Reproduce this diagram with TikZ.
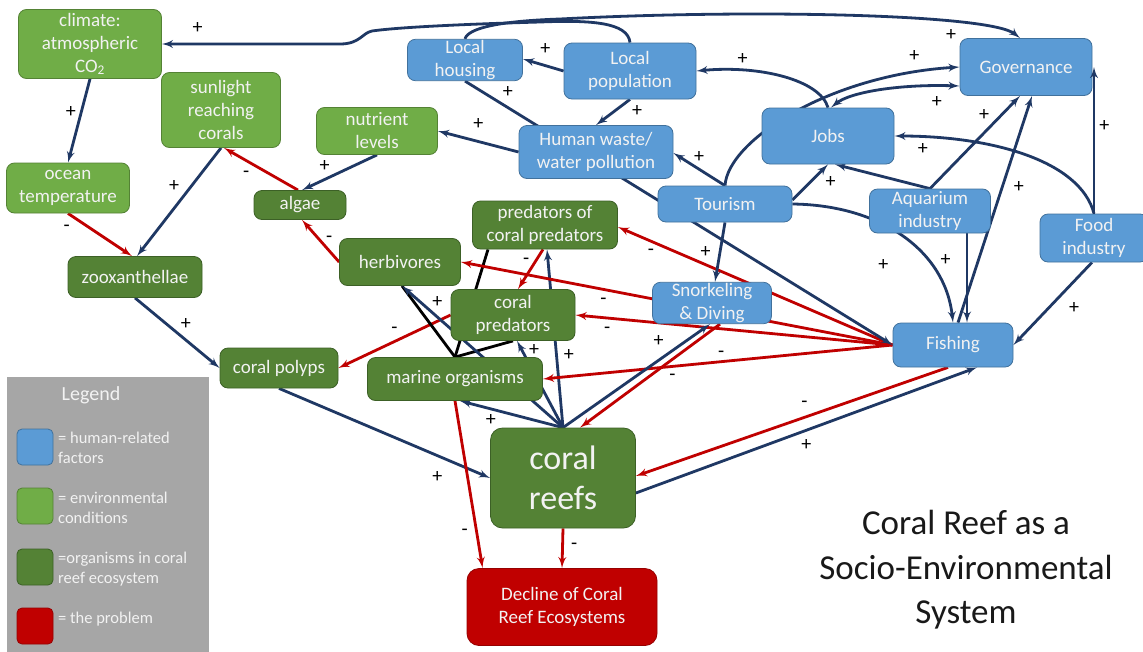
\documentclass[tikz,border=0pt]{standalone}
\usepackage{fontspec}
\setmainfont{Carlito}
\usetikzlibrary{shapes,arrows,calc,backgrounds,positioning}
\definecolor{humanblue}{RGB}{91,155,213}
\definecolor{humanedge}{RGB}{65,113,156}
\definecolor{envgreen}{RGB}{112,173,71}
\definecolor{envedge}{RGB}{84,130,53}
\definecolor{orggreen}{RGB}{84,130,53}
\definecolor{orgedge}{RGB}{60,96,38}
\definecolor{probred}{RGB}{192,0,0}
\definecolor{probedge}{RGB}{150,0,0}
\definecolor{lineblue}{RGB}{31,56,100}
\definecolor{linered}{RGB}{192,0,0}
\definecolor{legendgrey}{RGB}{166,166,166}
\definecolor{boxtext}{RGB}{242,242,242}
\definecolor{titlegrey}{RGB}{25,25,25}
\tikzstyle{factor} = [rectangle, draw, line width=0.8pt, rounded corners=8pt,
    text=boxtext, align=center, font=\fontsize{19}{23}\selectfont, inner sep=1pt]
\tikzstyle{human} = [factor, fill=humanblue, draw=humanedge]
\tikzstyle{envir} = [factor, fill=envgreen, draw=envedge]
\tikzstyle{organism} = [factor, fill=orggreen, draw=orgedge]
\tikzstyle{problem} = [factor, fill=probred, draw=probedge]
\tikzstyle{posline} = [draw, color=lineblue, line width=2.8pt, -latex']
\tikzstyle{negline} = [draw, color=linered, line width=2.8pt, -latex']
\tikzstyle{tie} = [draw, color=black, line width=2.8pt]
\tikzstyle{sign} = [font=\fontsize{20}{20}\selectfont, text=black, inner sep=1pt,
    text height=11pt, text depth=0pt]
\tikzstyle{swatch} = [rectangle, draw, line width=0.8pt, rounded corners=5pt, minimum size=36pt]
\tikzstyle{legendtext} = [text=boxtext, align=left, font=\fontsize{16.5}{20}\selectfont, inner sep=2pt]

\begin{document}
\begin{tikzpicture}[x=1pt, y=-1pt]
    \useasboundingbox (0,0) rectangle (1143,651);
    % Place nodes
    \node [envir, minimum width=143pt, minimum height=69pt] (climate) at (90,44) {climate:\\atmospheric\\CO\textsubscript{2}};
    \node [envir, minimum width=119pt, minimum height=75pt] (sun) at (221,110) {sunlight\\reaching\\corals};
    \node [envir, minimum width=121pt, minimum height=47pt] (nutr) at (377,131) {nutrient\\levels};
    \node [envir, minimum width=123pt, minimum height=50pt] (ocean) at (68,188) {ocean\\temperature};
    \node [organism, minimum width=92pt, minimum height=29pt] (algae) at (300,205) {algae};
    \node [organism, minimum width=134pt, minimum height=41pt] (zoox) at (135,277) {zooxanthellae};
    \node [organism, minimum width=121pt, minimum height=47pt] (herb) at (400,262) {herbivores};
    \node [organism, minimum width=145pt, minimum height=48pt] (pocp) at (545,225) {predators of\\coral predators};
    \node [organism, minimum width=124pt, minimum height=51pt] (cpred) at (513,315) {coral\\predators};
    \node [organism, minimum width=118pt, minimum height=40pt] (polyps) at (279,368) {coral polyps};
    \node [organism, minimum width=175pt, minimum height=43pt] (marine) at (455,379) {marine organisms};
    \node [organism, minimum width=145pt, minimum height=100pt, rounded corners=12pt,
        font=\fontsize{34}{40}\selectfont] (reefs) at (563,478) {coral\\reefs};
    \node [problem, minimum width=190pt, minimum height=77pt, rounded corners=12pt] (decline) at (562,607) {Decline of Coral\\Reef Ecosystems};
    \node [human, minimum width=115pt, minimum height=41pt] (housing) at (465,60) {Local\\housing};
    \node [human, minimum width=132pt, minimum height=56pt] (pop) at (630,71) {Local\\population};
    \node [human, minimum width=154pt, minimum height=53pt] (waste) at (596,152) {Human waste/\\water pollution};
    \node [human, minimum width=132pt, minimum height=57pt] (gov) at (1026,67) {Governance};
    \node [human, minimum width=132pt, minimum height=56pt] (jobs) at (828,136) {Jobs};
    \node [human, minimum width=134pt, minimum height=36pt] (tourism) at (725,204) {Tourism};
    \node [human, minimum width=121pt, minimum height=44pt] (aqua) at (930,211) {Aquarium\\industry};
    \node [human, minimum width=108pt, minimum height=48pt] (food) at (1094,238) {Food\\industry};
    \node [human, minimum width=119pt, minimum height=40pt] (snork) at (712,303) {Snorkeling\\\& Diving};
    \node [human, minimum width=120pt, minimum height=44pt] (fishing) at (953,345) {Fishing};
    % Legend
    \node [rectangle, fill=legendgrey, anchor=north west, minimum width=202pt, minimum height=280pt, inner sep=0pt] (legend) at (7,377) {};
    \node [legendtext, font=\fontsize{20}{24}\selectfont] (legendtitle) at (91,395) {Legend};
    \node [swatch, fill=humanblue, draw=humanedge] (keyhuman) at (35,447) {};
    \node [legendtext, anchor=west] (keyhumantext) at (56,448) {= human-related\\factors};
    \node [swatch, fill=envgreen, draw=envedge] (keyenv) at (35,506) {};
    \node [legendtext, anchor=west] (keyenvtext) at (56,508) {= environmental\\conditions};
    \node [swatch, fill=orggreen, draw=orgedge] (keyorg) at (35,567) {};
    \node [legendtext, anchor=west] (keyorgtext) at (56,569) {=organisms in coral\\reef ecosystem};
    \node [swatch, fill=probred, draw=probedge] (keyprob) at (35,626) {};
    \node [legendtext, anchor=west] (keyprobtext) at (56,619) {= the problem};
    % Title
    \node [text=titlegrey, align=center, font=\fontsize{35}{44.5}\selectfont] (title) at (966,570) {Coral Reef as a\\Socio-Environmental\\System};
    % Draw edges
    \begin{scope}[on background layer]
    \fill [white] (0,0) rectangle (1143,651);
    \path [posline] (climate.south) -- node[sign, pos=.4, left=3pt] {+} (ocean.north);
    \path [negline] (ocean.south) -- node[sign, pos=.3, left=15pt] {-} ([xshift=-3pt]zoox.north);
    \path [posline] (sun.south) -- node[sign, pos=.35, left=10pt] {+} ([xshift=2pt]zoox.north);
    \path [negline] ([xshift=-2pt]algae.north) -- node[sign, pos=.7, below=4pt] {-} ([xshift=3pt]sun.south);
    \path [posline] (nutr.south) -- node[sign, pos=.7, above=6pt] {+} ([xshift=2pt]algae.north);
    \path [negline] (herb.west) -- node[sign, pos=.6, right=7pt] {-} ([xshift=2pt]algae.south);
    \path [posline] (zoox.south) -- node[sign, pos=.6, above=8pt] {+} (polyps.west);
    \path [negline] (cpred.west) -- node[sign, pos=.5, above=6pt] {-} (polyps.east);
    \path [posline] (polyps.south) -- node[sign, pos=.75, below=13pt] {+} (reefs.west);
    \path [negline] (marine.south) -- node[sign, pos=.77, left=6pt] {-} ([xshift=16pt]decline.north west);
    \path [negline] (reefs.south) -- node[sign, pos=.4, right=6pt] {-} (decline.north);
    \path [tie] (marine.north) -- ([xshift=2pt]herb.south);
    \path [tie] (marine.north) -- (cpred.south);
    \path [tie] (marine.north) -- ([xshift=-57pt]pocp.south);
    \path [posline] (reefs.north) -- node[sign, pos=.78, above=7pt] {+} ([xshift=2pt]herb.south);
    \path [posline] (reefs.north) -- node[sign, pos=.9, right=5pt] {+} ([xshift=4pt]cpred.south);
    \path [posline] (reefs.north) -- node[sign, pos=.41, right=5pt] {+} ([xshift=2pt]pocp.south);
    \path [posline] (reefs.north) -- node[sign, pos=.7, below=3pt] {+} ([xshift=5pt]marine.south);
    \path [negline] ([xshift=-2pt]pocp.south) -- node[sign, pos=.25, left=5pt] {-} ([xshift=5pt]cpred.north);
    \path [negline] (fishing.west) -- node[sign, pos=.67, below=2pt] {-} (herb.east);
    \path [negline] (fishing.west) -- node[sign, pos=.9, below=2pt] {-} (cpred.east);
    \path [negline] (fishing.west) -- node[sign, pos=.88, below=1pt] {-} ([yshift=-2pt]pocp.east);
    \path [negline] (fishing.west) -- node[sign, pos=.49, above=2pt] {-} (marine.east);
    \path [negline] ([xshift=8pt]snork.south) -- node[sign, pos=.34, below=8pt] {-} ([xshift=17pt]reefs.north);
    \path [posline] (reefs.north) -- node[sign, pos=.65, above=11pt] {+} ([xshift=-2pt]snork.south);
    \path [negline] ([xshift=-5pt]fishing.south) -- node[sign, pos=.46, above=7pt] {-} ([yshift=2pt]reefs.east);
    \path [posline] ([yshift=-15pt]reefs.east) -- node[sign, pos=.5, below=7pt] {+} ([xshift=24pt]fishing.south);
    \path [posline] (housing.south) -- node[sign, pos=.1, above=8pt] {+} (fishing.west);
    \path [posline] (pop.west) -- node[sign, pos=.45, above=9pt] {+} ([yshift=1pt]housing.east);
    \path [posline] (pop.south) -- node[sign, pos=.45, right=15pt] {+} (waste.north);
    \path [posline] (waste.west) -- node[sign, pos=.5, above=10pt] {+} (nutr.east);
    \path [posline] (tourism.north) -- node[sign, pos=.5, above=4pt] {+} ([yshift=-1pt]waste.east);
    \path [posline] (tourism.north) .. controls (728,140) and (830,75) .. node[sign, pos=.88, above=8pt] {+} (gov.west);
    \path [posline] (jobs.north) .. controls (820,80) and (760,65) .. node[sign, pos=.75, above=3pt] {+} (pop.east);
    \path [posline, latex'-latex'] ([xshift=3pt]jobs.north) .. controls (850,92) and (900,84) .. node[sign, pos=.87, below=8pt] {+} ([yshift=-19pt]gov.west);
    \path [posline] ([yshift=4pt]tourism.east) -- node[sign, pos=.5, right=13pt] {+} (jobs.south);
    \path [posline] (aqua.north) -- ([xshift=7pt]jobs.south);
    \path [posline] (aqua.north) -- node[sign, pos=.6, above=10pt] {+} ([xshift=-6pt]gov.south);
    \path [posline] ([xshift=5pt]fishing.north) -- node[sign, pos=.6, right=9pt] {+} ([xshift=6pt]gov.south);
    \path [posline] ([xshift=37pt]aqua.south) -- node[sign, pos=.3, left=14pt] {+} ([xshift=14pt]fishing.north);
    \path [posline] (tourism.east) .. controls (880,205) and (945,250) .. node[sign, pos=.55, below left=14pt and 20pt] {+} (fishing.north);
    \path [posline] (food.north) .. controls (1080,160) and (990,136) .. node[sign, pos=.9, below=4pt] {+} (jobs.east);
    \path [posline] ([xshift=-2pt]food.south) -- node[sign, pos=.55, right=18pt] {+} (fishing.east);
    \path [posline] (tourism.south) -- node[sign, pos=.5, left=7pt] {+} ([xshift=3pt]snork.north);
    \path [posline] (pop.north) .. controls (628,22) and (590,20) .. (540,22)
        .. controls (470,24) and (400,27) .. (372,31)
        .. controls (362,33) and (360,44) .. (340,44)
        -- node[sign, pos=.8, above=8pt] {+} (climate.east);
    \path [posline] (housing.north) .. controls (468,28) and (500,21) .. (560,19)
        .. controls (750,9) and (990,14) .. node[sign, pos=.72, below=5pt] {+} ([xshift=-6pt]gov.north);
    \end{scope}
    \path [posline] (food.north) -- node[sign, pos=.6, right=3pt] {+} (food.north |- gov.east);
\end{tikzpicture}
\end{document}
